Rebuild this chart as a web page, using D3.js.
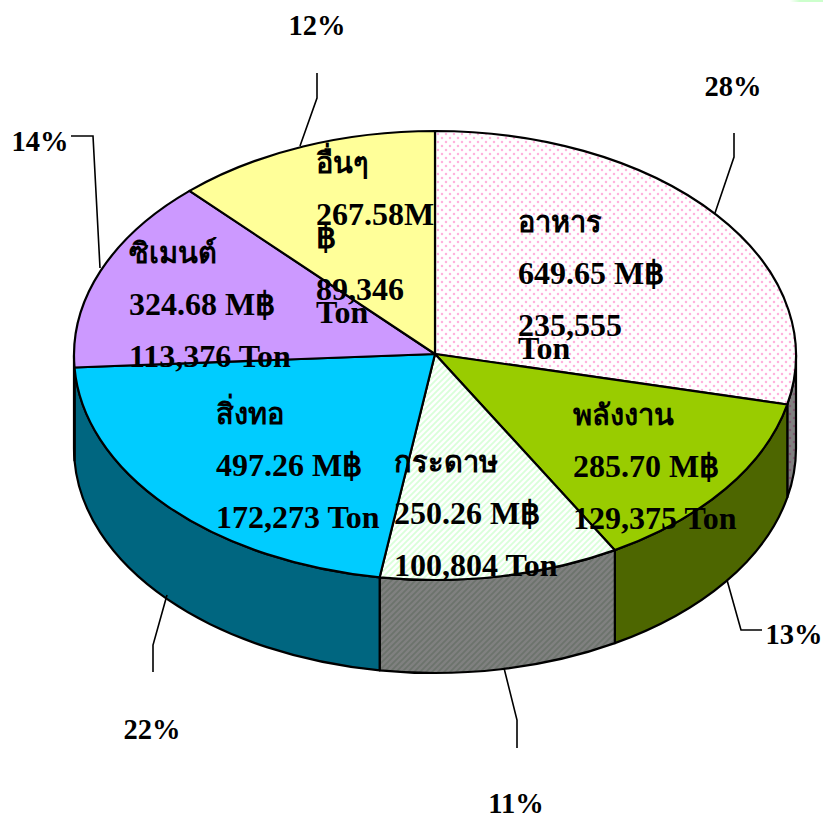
<!DOCTYPE html>
<html><head><meta charset="utf-8">
<style>html,body{margin:0;padding:0;background:#fff}svg{display:block}
text{font-family:"Liberation Serif","Noto Sans",serif;font-weight:700;fill:#000}</style>
<script src="https://cdn.jsdelivr.net/npm/d3@7"></script></head><body>
<script>
const categories=["อาหาร","พลังงาน","กระดาษ","สิ่งทอ","ซิเมนต์","อื่นๆ"];
const sliceShares=[28.5,13.2,10.75,21.7,13.95,11.9];
const valueLines=[["649.65 M฿"],["285.70 M฿"],["250.26 M฿"],["497.26 M฿"],["324.68 M฿"],["267.58M","฿"]];
const tonLines=[["235,555","Ton"],["129,375 Ton"],["100,804 Ton"],["172,273 Ton"],["113,376 Ton"],["89,346","Ton"]];
const percents=["28%","13%","11%","22%","14%","12%"];
const topFills=["url(#dots)","#99cc00","url(#stripes)","#00ccff","#cc99ff","#ffff99"];
const sideFills=["url(#dotsDark)","#4d6600","url(#stripesDark)","#006680","#664d80","#808050"];

// layout
const W=823,H=818,cx=435,apexY=354,cy=355.5,rx=361,ry=224.5,depth=93;
const labelXY=[[518,232],[573,425],[394,472],[216,424],[129,263],[316,173]];
const pctXY=[[733,96],[794,644],[516,813],[152,739],[40,151],[317,35]];
const leaders=[[[734,133],[734,157],[715,213]],[[727,580],[741,630],[762,630]],[[504,668],[517,720],[517,748]],
 [[167,595],[153,645],[153,672]],[[71,136],[93,136],[100,268]],[[317,73],[317,98],[300,146]]];
const lineGap=52,wrapGap=23;

const svg=d3.select("body").append("svg").attr("width",W).attr("height",H).attr("viewBox",[0,0,W,H]);
const defs=svg.append("defs");
function pat(id,w,h,bg,draw){const p=defs.append("pattern").attr("id",id).attr("patternUnits","userSpaceOnUse").attr("width",w).attr("height",h);
 p.append("rect").attr("width",w).attr("height",h).attr("fill",bg);draw(p);return p;}
const dotsAt=[[2,2],[6,6]];
pat("dots",8,8,"#fff",p=>dotsAt.forEach(c=>p.append("circle").attr("cx",c[0]).attr("cy",c[1]).attr("r",1.25).attr("fill","#ffb3dd")));
pat("dotsDark",8,8,"#808080",p=>dotsAt.forEach(c=>p.append("circle").attr("cx",c[0]).attr("cy",c[1]).attr("r",1.25).attr("fill","#805a70")));
const stripeD="M-1,7L7,-1M-4,4L4,-4M2,10L10,2";
pat("stripes",6,6,"#fff",p=>p.append("path").attr("d",stripeD).attr("stroke","#d9ffd9").attr("stroke-width",1.8));
pat("stripesDark",6,6,"#808080",p=>p.append("path").attr("d",stripeD).attr("stroke","#6c736c").attr("stroke-width",1.8));

const arcs=d3.pie().sort(null).value(d=>d)(sliceShares);
const x=d3.scaleLinear().domain([-1,1]).range([cx-rx,cx+rx]);
const y=d3.scaleLinear().domain([-1,1]).range([cy-ry,cy+ry]);
const px=a=>x(Math.sin(a)), py=a=>y(-Math.cos(a));

const g=svg.append("g").attr("stroke","#000").attr("stroke-width",2.2).attr("stroke-linejoin","round");
const lo=Math.PI/2,hi=3*Math.PI/2;
const side=arcs.map((d,i)=>({i,a0:Math.max(d.startAngle,lo),a1:Math.min(d.endAngle,hi)})).filter(d=>d.a1>d.a0);
g.selectAll("path.side").data(side).join("path").attr("class","side")
 .attr("fill",d=>sideFills[d.i])
 .attr("d",d=>`M${px(d.a0)},${py(d.a0)}A${rx},${ry} 0 0 1 ${px(d.a1)},${py(d.a1)}`+
   `L${px(d.a1)},${py(d.a1)+depth}A${rx},${ry} 0 0 0 ${px(d.a0)},${py(d.a0)+depth}Z`);
g.selectAll("path.top").data(arcs).join("path").attr("class","top")
 .attr("fill",(d,i)=>topFills[i])
 .attr("d",d=>`M${cx},${apexY}L${px(d.startAngle)},${py(d.startAngle)}A${rx},${ry} 0 ${d.endAngle-d.startAngle>Math.PI?1:0} 1 ${px(d.endAngle)},${py(d.endAngle)}Z`);
svg.append("g").attr("fill","none").attr("stroke","#000").attr("stroke-width",1.6)
 .selectAll("polyline").data(leaders).join("polyline").attr("points",d=>d.join(" "));
svg.append("g").selectAll("text").data(percents).join("text").attr("text-anchor","middle").attr("font-size",28.5)
 .attr("x",(d,i)=>pctXY[i][0]).attr("y",(d,i)=>pctXY[i][1]).text(d=>d);
categories.forEach((c,i)=>{
 const [lx,ly]=labelXY[i];
 const t=svg.append("g").attr("font-size",32);
 let yy=ly;
 const put=(s,fs)=>t.append("text").attr("x",lx).attr("y",yy).attr("font-size",fs).text(s);
 put(c,29);
 yy+=lineGap;
 valueLines[i].forEach(s=>{put(s);yy+=wrapGap;});
 yy+=lineGap-wrapGap;
 tonLines[i].forEach(s=>{put(s);yy+=wrapGap;});
});
svg.append("defs").append("linearGradient").attr("id","corner").selectAll("stop").data([["0","#fff"],["0.3","#ccffcc"]]).join("stop")
 .attr("offset",d=>d[0]).attr("stop-color",d=>d[1]);
svg.append("rect").attr("x",790).attr("y",-1).attr("width",33).attr("height",3).attr("fill","url(#corner)");
</script></body></html>
